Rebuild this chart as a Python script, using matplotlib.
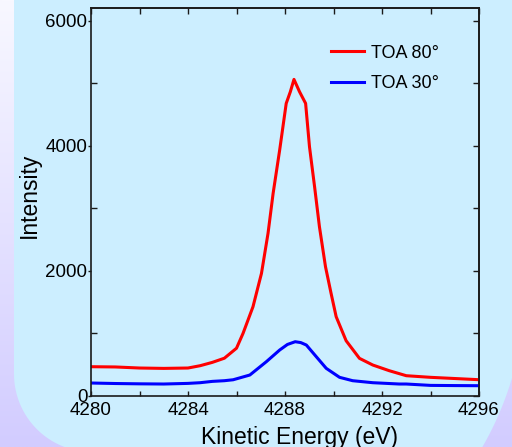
import numpy as np
import matplotlib
matplotlib.use("Agg")
import matplotlib.pyplot as plt
from matplotlib.ticker import MultipleLocator
from matplotlib.patches import Polygon

plt.rcParams['font.family'] = ['Liberation Sans', 'DejaVu Sans']

# データ
red_e = [4280, 4281, 4282, 4283, 4284, 4284.5, 4285, 4285.5, 4286, 4286.27,
         4286.68, 4287.03, 4287.3, 4287.51, 4287.78, 4288.05, 4288.22, 4288.37,
         4288.6, 4288.85, 4289.01, 4289.22, 4289.42, 4289.67, 4289.9, 4290.11,
         4290.52, 4291.07, 4291.62, 4292.3, 4293, 4294, 4295, 4296]
red_i = [464, 460, 443, 437, 443, 480, 533, 600, 760, 998,
         1424, 1958, 2598, 3238, 3931, 4678, 4864, 5062,
         4864, 4678, 3984, 3344, 2704, 2064, 1638, 1264,
         880, 598, 491, 400, 320, 294, 275, 256]
blue_e = [4280, 4281, 4282, 4283, 4284, 4284.5, 4285, 4285.5, 4285.86, 4286.55,
          4287.23, 4287.78, 4288.1, 4288.42, 4288.65, 4288.88, 4289.29, 4289.7,
          4290.25, 4290.79, 4291.62, 4292.71, 4293, 4294, 4295, 4296]
blue_i = [203, 195, 190, 187, 197, 208, 229, 240, 255, 331,
          544, 731, 820, 864, 850, 811, 624, 438,
          294, 240, 208, 187, 187, 165, 162, 160]
labels = ['TOA 80°', 'TOA 30°']
colors = ['#ff0000', '#0000ff']

W, H = 512, 447
fig = plt.figure(figsize=(W / 100, H / 100), dpi=100)

# 背景 (グラデーション + 角丸の水色領域)
bg = fig.add_axes([0, 0, 1, 1], zorder=-1)
grad = np.linspace(0, 1, 256)[:, None]
top = np.array([0xf8, 0xf8, 0xff]) / 255
bot = np.array([0xd2, 0xcc, 0xff]) / 255
img = top[None, None, :] * (1 - grad[..., None]) + bot[None, None, :] * grad[..., None]
bg.imshow(img, extent=[0, W, H, 0], aspect='auto')
th1 = np.radians(np.linspace(180, 90, 30))
arc1 = np.column_stack([92 + 78 * np.cos(th1), 374 + 78 * np.sin(th1)])
th2 = np.radians(np.linspace(40, 0, 30))
arc2 = np.column_stack([207 + 318 * np.cos(th2), 288 + 318 * np.sin(th2)])
pts = np.vstack([[[14, -10], [14, 374]], arc1, arc2, [[525, -10]]])
bg.add_patch(Polygon(pts, closed=True, facecolor='#cceeff', edgecolor='none'))
bg.set_xlim(0, W)
bg.set_ylim(H, 0)
bg.axis('off')

# プロット領域
ax = fig.add_axes([91 / W, 1 - 395.7 / H, 388 / W, 387.4 / H])
ax.set_facecolor('none')
ax.plot(red_e, red_i, color=colors[0], lw=2.2, label=labels[0])
ax.plot(blue_e, blue_i, color=colors[1], lw=2.2, label=labels[1])
ax.set_xlim(4280, 4296)
ax.set_ylim(0, 6200)

# 目盛り
spine_c = '#1a1a1a'
ax.xaxis.set_major_locator(MultipleLocator(4))
ax.xaxis.set_minor_locator(MultipleLocator(2))
ax.yaxis.set_major_locator(MultipleLocator(2000))
ax.yaxis.set_minor_locator(MultipleLocator(1000))
ax.tick_params(axis='x', which='both', direction='in', length=3.8, width=1,
               color=spine_c, top=False, labelsize=13.5, pad=4.5)
ax.tick_params(axis='y', which='major', direction='out', length=2.2, width=1,
               color=spine_c, right=False, labelsize=13.5, pad=0.5)
ax.tick_params(axis='y', which='minor', direction='in', length=4.3, width=1,
               color=spine_c, right=False)
secx = ax.secondary_xaxis('top')
secx.xaxis.set_major_locator(MultipleLocator(2))
secx.tick_params(axis='x', direction='in', length=4.3, width=1, color=spine_c,
                 labeltop=False)
secy = ax.secondary_yaxis('right')
secy.yaxis.set_major_locator(MultipleLocator(1000))
secy.tick_params(axis='y', direction='in', length=4.3, width=1, color=spine_c,
                 labelright=False)
for a in (ax, secx, secy):
    for s in a.spines.values():
        s.set_color(spine_c)
        s.set_linewidth(1.2)

# ラベル
ax.set_xlabel('Kinetic Energy (eV)', fontsize=16.5)
ax.xaxis.set_label_coords(0.537, -0.107)
ax.xaxis.label.set_va('center')
ax.set_ylabel('Intensity', fontsize=16.5)
ax.yaxis.set_label_coords(-0.158, 0.518)
ax.yaxis.label.set_va('center')

# 凡例
ax.legend(loc='upper left', bbox_to_anchor=(0.619, 0.906), frameon=False,
          fontsize=13, handlelength=1.83, handletextpad=0.39, labelspacing=0.74,
          borderpad=0, borderaxespad=0)

fig.savefig('out.png', dpi=100)
